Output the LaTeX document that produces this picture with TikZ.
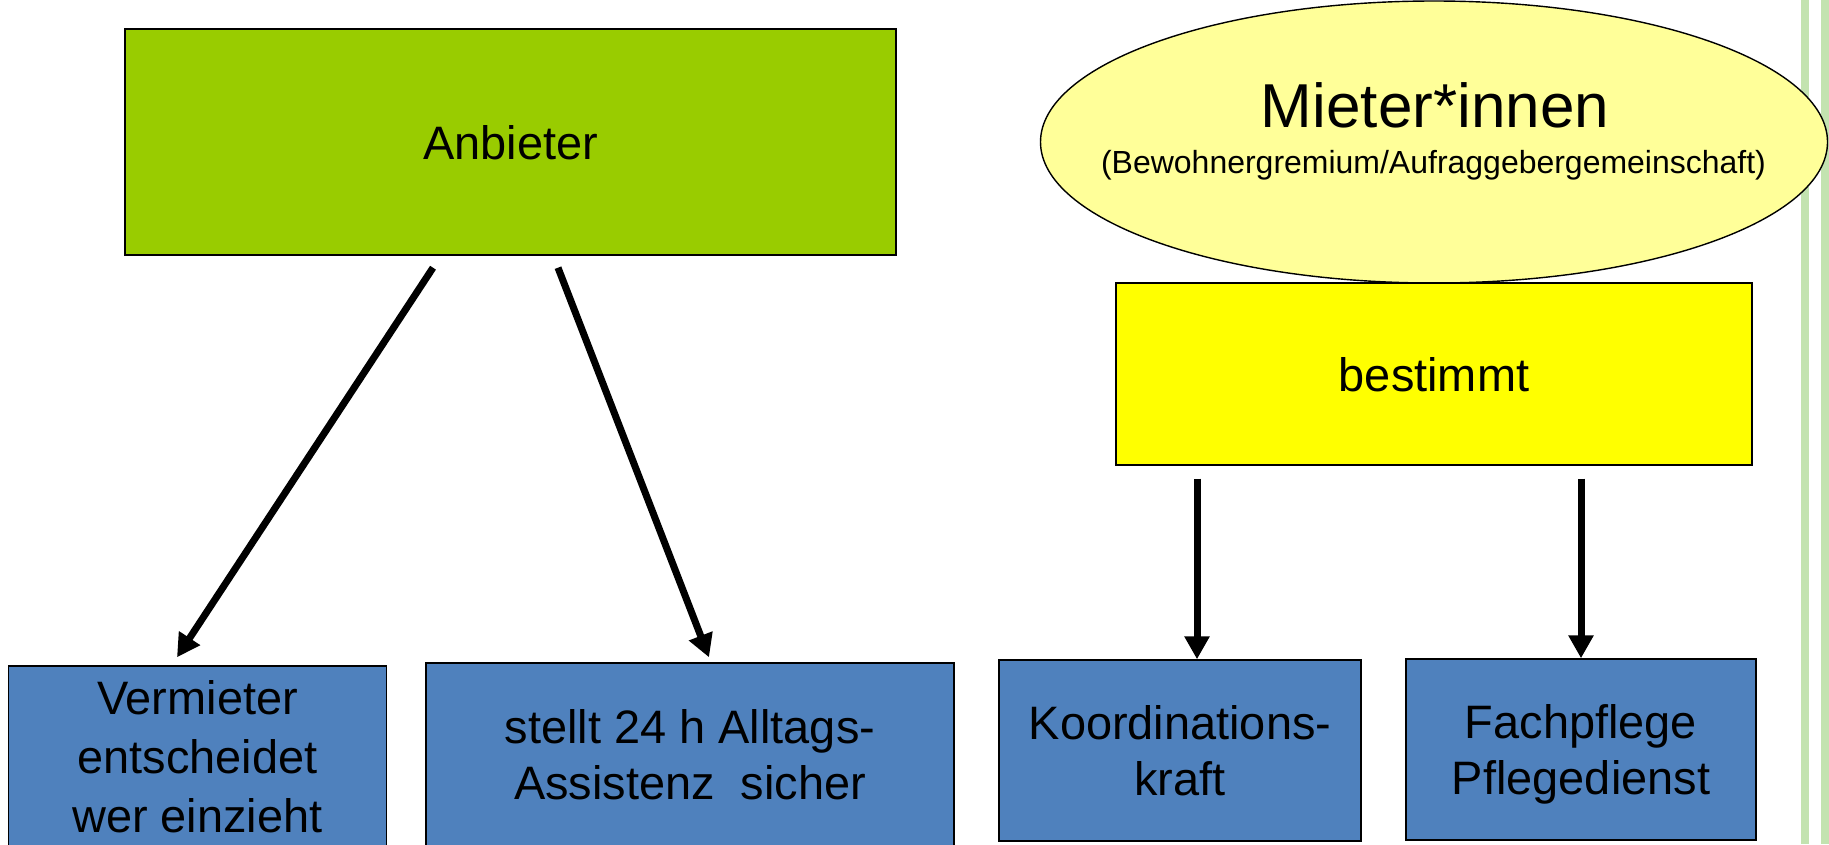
\documentclass[tikz,border=0pt]{standalone}
\usepackage{fontspec}
\setmainfont{Liberation Sans}
\usepackage{xcolor}
\usepackage{tikz}
\usetikzlibrary{positioning,calc,arrows.meta,shapes.geometric}
\definecolor{AnbGreen}{RGB}{153,204,0}
\definecolor{BoxBlue}{RGB}{79,129,189}

\begin{document}
\begin{tikzpicture}
	\definecolor{mieteryellow}{RGB}{255,255,153}
	\definecolor{bestyellow}{RGB}{255,255,0}
	\definecolor{stripegreen}{RGB}{195,227,176}
	\tikzset{
		basebox/.style={
			shape=rectangle,
			draw=black,
			line width=0.8pt,
			inner sep=0pt,
			align=center,
			text=black,
			font=\fontsize{26.7}{31.9}\selectfont
		},
		anbbox/.style={basebox, fill=AnbGreen, text depth=-0.12cm},
		bestbox/.style={basebox, fill=bestyellow, text depth=-0.12cm},
		bluebox/.style={basebox, fill=BoxBlue, minimum height=3.62cm, text depth=0pt},
		mieterell/.style={
			shape=ellipse,
			draw=black,
			line width=0.8pt,
			fill=mieteryellow,
			inner sep=0pt,
			minimum width=15.74cm,
			minimum height=5.64cm
		},
		pfeil/.style={draw=black, line width=4pt, -{Triangle[length=0.46cm,width=0.48cm]}}
	}
	\useasboundingbox (0,0) rectangle (36.58,-16.88);
	% stripes at the right edge
	\fill[stripegreen] (36.02,0) rectangle (36.18,-16.88);
	\fill[stripegreen] (36.42,0) rectangle (36.58,-16.88);
	
	% left side
	\node[anbbox, minimum width=15.42cm, minimum height=4.52cm] (anbieter) at (10.21,-2.84) {Anbieter};
	\node[bluebox, minimum width=7.56cm, text depth=-0.1cm, font=\fontsize{26.7}{33.6}\selectfont] (vermieter) at (3.95,-15.13) {Vermieter\\entscheidet\\wer einzieht};
	\node[bluebox, minimum width=10.56cm, minimum height=3.66cm] (assistenz) at (13.8,-15.09) {stellt 24 h Alltags-\\Assistenz\ \ sicher};
	
	% right side
	\node[mieterell] (mieter) at (28.68,-2.84) {};
	\node[anchor=base, font=\fontsize{35.3}{40}\selectfont] (mietertitel) at (28.7,-2.54) {Mieter*innen};
	\node[anchor=base, font=\fontsize{18.2}{22}\selectfont] (mieterzusatz) at (28.67,-3.46) {(Bewohnergremium/Aufraggebergemeinschaft)};
	\node[bestbox, minimum width=12.72cm, minimum height=3.64cm] (bestimmt) at (28.68,-7.48) {bestimmt};
	\node[bluebox, minimum width=7.24cm] (koord) at (23.6,-15.01) {Koordinations-\\kraft};
	\node[bluebox, minimum width=7.0cm] (pflege) at (31.62,-14.99) {Fachpflege\\Pflegedienst};
	
	% arrows
	\draw[pfeil] ($(anbieter.south)+(-1.55,-0.24)$) -- ($(vermieter.north)+(-0.41,0.16)$);
	\draw[pfeil] ($(anbieter.south)+(0.95,-0.24)$) -- ($(assistenz.north)+(0.38,0.10)$);
	\draw[pfeil] ($(koord.north |- bestimmt.south)+(0.34,-0.26)$) -- ($(koord.north)+(0.34,0)$);
	\draw[pfeil] ($(pflege.north |- bestimmt.south)+(0,-0.26)$) -- (pflege.north);
\end{tikzpicture}
\end{document}
